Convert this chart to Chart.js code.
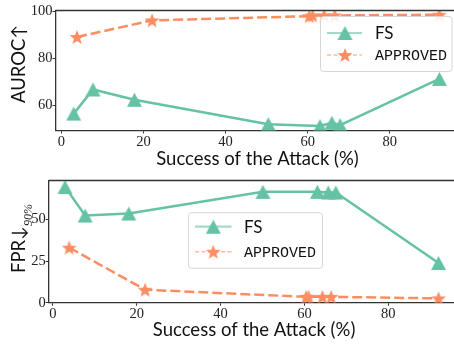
<!DOCTYPE html>
<html><head><meta charset="utf-8">
<script src="https://cdn.jsdelivr.net/npm/chart.js@4/dist/chart.umd.min.js"></script>
<style>
html,body{margin:0;padding:0;background:#fff;overflow:hidden;width:454px;height:345px;}
.wrap{position:absolute;left:0;width:470px;}
#w1{top:0;height:170px;}
#w2{top:170px;height:175px;}
canvas{display:block;}
</style></head><body>
<div class="wrap" id="w1"><canvas id="c1" width="470" height="170"></canvas></div>
<div class="wrap" id="w2"><canvas id="c2" width="470" height="175"></canvas></div>
<script>
// ---- data ----
const seriesNames = ['FS', 'APPROVED'];
const xTickValues = [0, 20, 40, 60, 80];
const aurocTicks = [60, 80, 100];
const fprTicks = [0, 25, 50];
const xTitle = 'Success of the Attack (%)';

const fsAttackTop = [3.0, 7.7, 17.8, 50.4, 63.0, 65.9, 67.9, 92.1];
const fsAuroc     = [56.4, 66.7, 62.3, 51.9, 51.1, 52.5, 51.5, 71.2];
const apAttackTop = [3.8, 22.1, 60.4, 61.2, 64.0, 66.6, 92.1];
const apAuroc     = [89.1, 96.2, 98.0, 98.3, 98.3, 98.3, 98.6];

const fsAttackBottom = [2.9, 7.7, 18.1, 50.1, 63.1, 65.7, 67.5, 92.0];
const fsFpr          = [69.4, 52.3, 53.5, 66.5, 66.5, 66.1, 66.1, 23.8];
const apAttackBottom = [3.9, 22.0, 60.4, 61.0, 64.3, 66.4, 92.0];
const apFpr          = [33.0, 7.8, 3.5, 3.6, 3.5, 3.5, 2.6];

// ---- styles ----
const GREEN = '#66c2a5';
const ORANGE = '#fc8d62';
const AXIS = '#333333';
const SANS = 'Lato, "Open Sans", sans-serif';
const SERIF = '"Liberation Serif", "DejaVu Serif", serif';
const MONO = '"Liberation Mono", "DejaVu Sans Mono", monospace';

function makeTriangle(color, w, h) {
  const c = document.createElement('canvas');
  c.width = w + 2; c.height = h + 2;
  const g = c.getContext('2d');
  g.fillStyle = color;
  g.beginPath();
  g.moveTo((w + 2) / 2, 1);
  g.lineTo(w + 1, h + 1);
  g.lineTo(1, h + 1);
  g.closePath();
  g.fill();
  return c;
}
function makeStar(color, R, r) {
  const s = Math.ceil(2 * R + 2);
  const c = document.createElement('canvas');
  c.width = s; c.height = s;
  const g = c.getContext('2d');
  const cx = s / 2, cy = s / 2 + R * 0.1;
  g.fillStyle = color;
  g.beginPath();
  for (let i = 0; i < 10; i++) {
    const rad = (i % 2 === 0) ? R : r;
    const a = -Math.PI / 2 + i * Math.PI / 5;
    const x = cx + rad * Math.cos(a), y = cy + rad * Math.sin(a);
    if (i === 0) g.moveTo(x, y); else g.lineTo(x, y);
  }
  g.closePath();
  g.fill();
  return c;
}
const triImg = makeTriangle(GREEN, 15, 14);
const starImg = makeStar(ORANGE, 7.8, 3.3);

function toXY(xs, ys) { return xs.map((x, i) => ({x: x, y: ys[i]})); }

const legendPlugin = {
  id: 'customLegend',
  afterDraw(chart, args, o) {
    if (!o || !o.box) return;
    const ctx = chart.ctx;
    ctx.save();
    const b = o.box;
    const rr = 3;
    ctx.beginPath();
    ctx.moveTo(b.x + rr, b.y);
    ctx.lineTo(b.x + b.w - rr, b.y);
    ctx.arcTo(b.x + b.w, b.y, b.x + b.w, b.y + rr, rr);
    ctx.lineTo(b.x + b.w, b.y + b.h - rr);
    ctx.arcTo(b.x + b.w, b.y + b.h, b.x + b.w - rr, b.y + b.h, rr);
    ctx.lineTo(b.x + rr, b.y + b.h);
    ctx.arcTo(b.x, b.y + b.h, b.x, b.y + b.h - rr, rr);
    ctx.lineTo(b.x, b.y + rr);
    ctx.arcTo(b.x, b.y, b.x + rr, b.y, rr);
    ctx.closePath();
    ctx.fillStyle = 'rgba(255,255,255,0.85)';
    ctx.fill();
    ctx.strokeStyle = '#d6d6d6';
    ctx.lineWidth = 1;
    ctx.stroke();
    const fonts = ['17px ' + SANS, '15px ' + MONO];
    chart.data.datasets.forEach((ds, i) => {
      const y = o.rows[i];
      ctx.save();
      ctx.globalAlpha = 0.6;
      ctx.strokeStyle = ds.borderColor;
      ctx.lineWidth = i === 0 ? 2.2 : 1.4;
      ctx.setLineDash(i === 0 ? [] : [4, 2.5]);
      ctx.beginPath();
      ctx.moveTo(o.lineX0, y);
      ctx.lineTo(o.lineX1, y);
      ctx.stroke();
      ctx.restore();
      const img = ds.pointStyle;
      ctx.drawImage(img, o.markerX - img.width / 2, y - img.height / 2);
      ctx.font = fonts[i];
      ctx.fillStyle = '#111';
      ctx.textBaseline = 'middle';
      ctx.textAlign = 'left';
      ctx.fillText(ds.label, o.textX, y + 1);
    });
    ctx.restore();
  }
};

const framePlugin = {
  id: 'frameTop',
  afterDatasetsDraw(chart) {
    const ctx = chart.ctx, a = chart.chartArea;
    ctx.save();
    ctx.strokeStyle = AXIS;
    ctx.lineWidth = 1.3;
    ctx.beginPath();
    ctx.moveTo(a.left, a.top);
    ctx.lineTo(a.right, a.top);
    ctx.stroke();
    ctx.restore();
  }
};

const yTitlePlugin = {
  id: 'yTitle',
  afterDraw(chart, args, o) {
    if (!o || !o.parts) return;
    const ctx = chart.ctx;
    ctx.save();
    ctx.translate(0, 0);
    ctx.rotate(-Math.PI / 2);
    ctx.fillStyle = '#111';
    ctx.textBaseline = 'alphabetic';
    ctx.textAlign = 'left';
    let u = -o.startY;
    o.parts.forEach(p => {
      ctx.font = p.font;
      ctx.fillText(p.text, u, p.baseX);
      u += ctx.measureText(p.text).width;
    });
    ctx.restore();
  }
};

function makeChart(id, cfg) {
  const ticksCb = (vals) => function (scale) { scale.ticks = vals.map(v => ({value: v})); };
  return new Chart(document.getElementById(id), {
    type: 'line',
    data: {
      datasets: [
        {
          label: seriesNames[0],
          data: cfg.fs,
          borderColor: GREEN,
          backgroundColor: GREEN,
          borderWidth: 2.5,
          pointStyle: triImg,
          pointRadius: 8,
          tension: 0
        },
        {
          label: seriesNames[1],
          data: cfg.ap,
          borderColor: ORANGE,
          backgroundColor: ORANGE,
          borderWidth: 2.5,
          borderDash: [10, 4],
          pointStyle: starImg,
          pointRadius: 8,
          tension: 0
        }
      ]
    },
    options: {
      responsive: false,
      devicePixelRatio: 1,
      animation: false,
      events: [],
      layout: {padding: {top: cfg.padTop, right: 4, left: 0, bottom: 0}},
      plugins: {
        legend: {display: false},
        tooltip: {enabled: false},
        customLegend: cfg.legend,
        yTitle: cfg.yTitle
      },
      scales: {
        x: {
          type: 'linear',
          min: cfg.xMin, max: cfg.xMax,
          afterBuildTicks: ticksCb(xTickValues),
          afterFit: (s) => { s.height = cfg.xAxisH; },
          grid: {drawOnChartArea: false, drawTicks: true, tickLength: 3, color: AXIS, lineWidth: 1},
          border: {display: true, color: AXIS, width: 1.3},
          ticks: {font: {family: SERIF, size: 14.5}, color: '#222', padding: 0, maxRotation: 0},
          title: {display: true, text: xTitle, font: {family: SANS, size: 18.5}, color: '#111', padding: {top: 0, bottom: cfg.titlePad}}
        },
        y: {
          type: 'linear',
          min: cfg.yMin, max: cfg.yMax,
          afterBuildTicks: ticksCb(cfg.yTicks),
          afterFit: (s) => { s.width = cfg.yAxisW; },
          grid: {drawOnChartArea: false, drawTicks: true, tickLength: 3, color: AXIS, lineWidth: 1},
          border: {display: true, color: AXIS, width: 1.3},
          ticks: {font: {family: SERIF, size: 14.5}, color: '#222', padding: 0}
        }
      }
    },
    plugins: [framePlugin, legendPlugin, yTitlePlugin]
  });
}

makeChart('c1', {
  fs: toXY(fsAttackTop, fsAuroc),
  ap: toXY(apAttackTop, apAuroc),
  padTop: 9, xAxisH: 39.5, yAxisW: 55.5,
  xMin: -1.44, xMax: 97, yMin: 49.2, yMax: 100.4, yTicks: aurocTicks,
  titlePad: 0,
  legend: {box: {x: 320.5, y: 16.5, w: 131.5, h: 55}, rows: [33, 55], lineX0: 327, lineX1: 362, markerX: 345, textX: 375},
  yTitle: {startY: 103, parts: [{text: 'AUROC↑', font: '18.5px ' + SANS, baseX: 25}]}
});

makeChart('c2', {
  fs: toXY(fsAttackBottom, fsFpr),
  ap: toXY(apAttackBottom, apFpr),
  padTop: 6.7, xAxisH: 42.3, yAxisW: 48.7,
  xMin: -1.0, xMax: 97, yMin: 0, yMax: 73.3, yTicks: fprTicks,
  titlePad: 4,
  legend: {box: {x: 188.5, y: 42.7, w: 134, h: 55.6}, rows: [56.7, 81.7], lineX0: 195, lineX1: 231.5, markerX: 213.3, textX: 244},
  yTitle: {startY: 103, parts: [
    {text: 'FPR↓', font: '18.5px ' + SANS, baseX: 25},
    {text: '90%', font: 'italic 12px ' + SERIF, baseX: 32}
  ]}
});
</script>
</body></html>
